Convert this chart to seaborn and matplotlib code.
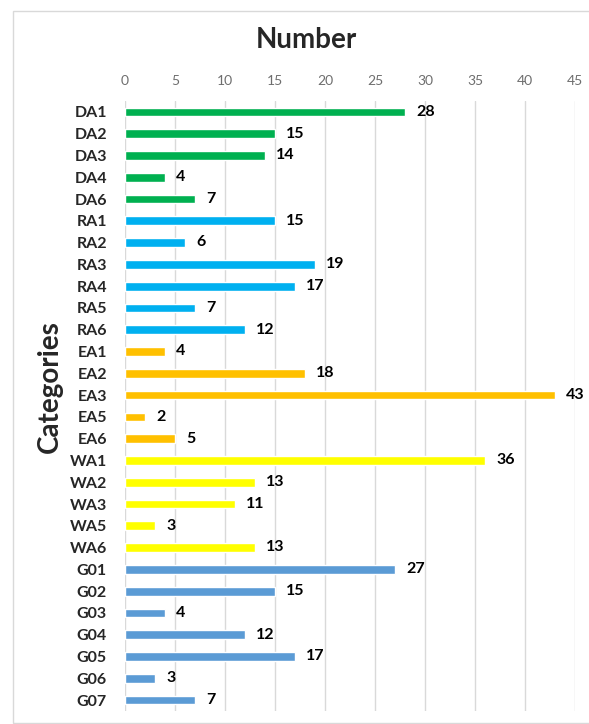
import matplotlib
matplotlib.use("Agg")
import matplotlib.pyplot as plt
import seaborn as sns
import pandas as pd
from matplotlib.patches import Rectangle

categories = ["DA1", "DA2", "DA3", "DA4", "DA6",
              "RA1", "RA2", "RA3", "RA4", "RA5", "RA6",
              "EA1", "EA2", "EA3", "EA5", "EA6",
              "WA1", "WA2", "WA3", "WA5", "WA6",
              "G01", "G02", "G03", "G04", "G05", "G06", "G07"]
values = [28, 15, 14, 4, 7,
          15, 6, 19, 17, 7, 12,
          4, 18, 43, 2, 5,
          36, 13, 11, 3, 13,
          27, 15, 4, 12, 17, 3, 7]
groups = [c[0] for c in categories]
group_colors = {"D": "#00B050", "R": "#00B0F0", "E": "#FFC000",
                "W": "#FFFF00", "G": "#5B9BD5"}
x_ticks = [0, 5, 10, 15, 20, 25, 30, 35, 40, 45]

df = pd.DataFrame({"category": categories, "value": values, "group": groups})

sns.set_theme(style="white")
plt.rcParams["font.family"] = ["Lato", "DejaVu Sans"]

W, H = 589, 724
fig = plt.figure(figsize=(W / 100, H / 100), dpi=100)
ax = fig.add_axes([125 / W, 1 - 711 / H, 450 / W, 610 / H])

sns.barplot(data=df, x="value", y="category", hue="group",
            palette=group_colors, dodge=False, width=0.4,
            legend=False, saturation=1, ax=ax)

for cont in ax.containers:
    labels = ax.bar_label(cont, fmt="%d", padding=8, fontsize=11.5,
                          fontweight="bold", color="black")
    for t in labels:
        t.set_va("center")
        t.set_y(t.get_position()[1] + 0.08)

ax.set_xlim(0, 45)
ax.set_xticks(x_ticks)
ax.xaxis.tick_top()
ax.tick_params(axis="x", length=0, labelsize=10, labelcolor="#6E6E6E", pad=10)
ax.tick_params(axis="y", length=0, labelsize=11.5, pad=13)
for lbl in ax.get_yticklabels():
    lbl.set_fontweight("bold")
ax.grid(axis="x", color="#D9D9D9", linewidth=1)
ax.set_axisbelow(True)
for s in ax.spines.values():
    s.set_visible(False)

ax.set_xlabel("")
ax.set_ylabel("Categories", fontsize=20, fontweight="bold")
ax.yaxis.set_label_coords((63 - 125) / 450, (711 - 387) / 610)
fig.text(306 / W, 1 - 40 / H, "Number", ha="center", va="center",
         fontsize=20, fontweight="bold")

fig.patches.append(Rectangle((13 / W, 1 - 723 / H), (W + 10) / W, 712 / H,
                             transform=fig.transFigure, fill=False,
                             edgecolor="#D9D9D9", linewidth=1))

fig.savefig("out.png", dpi=100)
